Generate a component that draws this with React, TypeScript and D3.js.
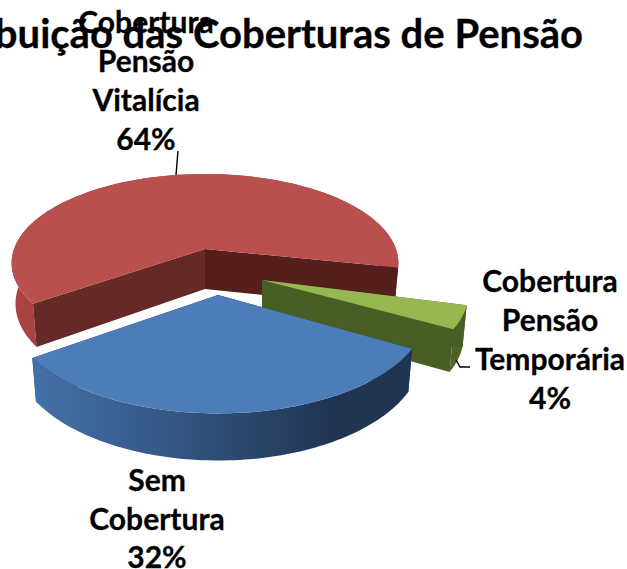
import React from "react";
import * as d3 from "d3";

const categories = ["Cobertura Pensão Vitalícia", "Cobertura Pensão Temporária", "Sem Cobertura"];
const seriesValues = [64, 4, 32];
const topColors = ["#B9504E", "#95B851", "#4C7DB8"];
const innerColors = ["#541F1D", "#495E24", "#1F3552"];
const labelLines = [
  ["Cobertura", "Pensão", "Vitalícia", "64%"],
  ["Cobertura", "Pensão", "Temporária", "4%"],
  ["Sem", "Cobertura", "32%"],
];
const titleText = "Distribuição das Coberturas de Pensão";

const W = 627, H = 569;
const CX = 205, CY = 249, K = 0.157, A = 86.8, B = 191;
const RAD = Math.PI / 180;
const explode = [
  { dx: 0, dy: 0, sx: 1, sy: 1, trimS: 0, trimE: -3.5 * RAD, order: ["outer", "wallA", "wallB"] },
  { dx: 57, dy: 31, sx: 1.065, sy: 1.05, trimS: 0, trimE: 0, order: ["wallB", "outer", "wallA"] },
  { dx: 13, dy: 46, sx: 1.08, sy: 1.15, trimS: 0, trimE: 0, order: ["wallA", "wallB", "outer"] },
];
const labelPos = [{ x: 146, y: 33 }, { x: 550, y: 292 }, { x: 157, y: 491 }];
const FONT = "Lato, Carlito, 'Open Sans', sans-serif";

type P = [number, number];
const project = (a: number): P => {
  const u = Math.sin(a), v = -Math.cos(a);
  const d = 1 - K * v;
  return [(B * u) / d, (A * v) / d];
};
const lower = ([x, y]: P): P => [x * 0.98, y + 40 + 0.06 * y];

const pieGen = d3.pie<number>().sort(null).startAngle(235 * RAD).endAngle(595 * RAD);
const arcs = pieGen(seriesValues);
const lineGen = d3.line<P>().curve(d3.curveLinearClosed);

function slicePaths(i: number): Record<string, string> {
  const e = explode[i];
  const startAngle = arcs[i].startAngle + e.trimS;
  const endAngle = arcs[i].endAngle + e.trimE;
  const n = 90;
  const place = ([x, y]: P): P => [CX + e.dx + x, CY + e.dy + y];
  const rim = d3.range(n + 1).map((k): P => {
    const [x, y] = project(startAngle + ((endAngle - startAngle) * k) / n);
    return [x * e.sx, y * e.sy];
  });
  const apex: P = [0, 0];
  const first = rim[0], last = rim[n];
  return {
    top: lineGen([apex, ...rim].map(place))!,
    outer: lineGen([...rim, ...rim.map(lower).reverse()].map(place))!,
    wallA: lineGen([apex, first, lower(first), lower(apex)].map(place))!,
    wallB: lineGen([apex, last, lower(last), lower(apex)].map(place))!,
  };
}

export default function App() {
  const paths = arcs.map((_, i) => slicePaths(i));
  const faceFill = (i: number, k: string) => {
    if (k === "outer") return `url(#side${i})`;
    if (i === 0 && k === "wallA") return "#652A27";
    return innerColors[i];
  };
  return (
    <svg width={W} height={H} style={{ position: "absolute", left: 0, top: 0, display: "block" }} fontFamily={FONT}>
      <defs>
        <linearGradient id="side0" gradientUnits="userSpaceOnUse" x1="12" x2="399" y1="0" y2="0">
          <stop offset="0" stopColor="#A9433F" />
          <stop offset="1" stopColor="#A9433F" />
        </linearGradient>
        <linearGradient id="side1" gradientUnits="userSpaceOnUse" x1="300" x2="470" y1="0" y2="0">
          <stop offset="0" stopColor="#495E24" />
          <stop offset="1" stopColor="#4E6427" />
        </linearGradient>
        <linearGradient id="side2" gradientUnits="userSpaceOnUse" x1="32" x2="412" y1="0" y2="0">
          <stop offset="0" stopColor="#4472A8" />
          <stop offset="0.25" stopColor="#395F90" />
          <stop offset="0.5" stopColor="#2E4C72" />
          <stop offset="0.8" stopColor="#1F3552" />
          <stop offset="1" stopColor="#1F3552" />
        </linearGradient>
      </defs>
      {paths.map((p, i) => (
        <g key={categories[i]}>
          {explode[i].order.map((k) => (
            <path key={k} d={p[k]} fill={faceFill(i, k)} />
          ))}
          <path d={p.top} fill={topColors[i]} />
        </g>
      ))}
      <path d="M178,151L176,175" fill="none" stroke="#000" strokeWidth={1.4} />
      <path d="M456,360L460,367L470,367" fill="none" stroke="#000" strokeWidth={1.4} />
      <text x={583} y={48} textAnchor="end" fontSize={40} fontWeight={700} fill="#000" stroke="#000" strokeWidth={0.3}>{titleText}</text>
      {labelLines.map((lines, i) => (
        <text key={i} textAnchor="middle" fontSize={30} fontWeight={700} fill="#000" stroke="#000" strokeWidth={0.3}>
          {lines.map((t, j) => (
            <tspan key={j} x={labelPos[i].x} y={labelPos[i].y + j * (i === 2 ? 38.5 : 39)}>{t}</tspan>
          ))}
        </text>
      ))}
    </svg>
  );
}
